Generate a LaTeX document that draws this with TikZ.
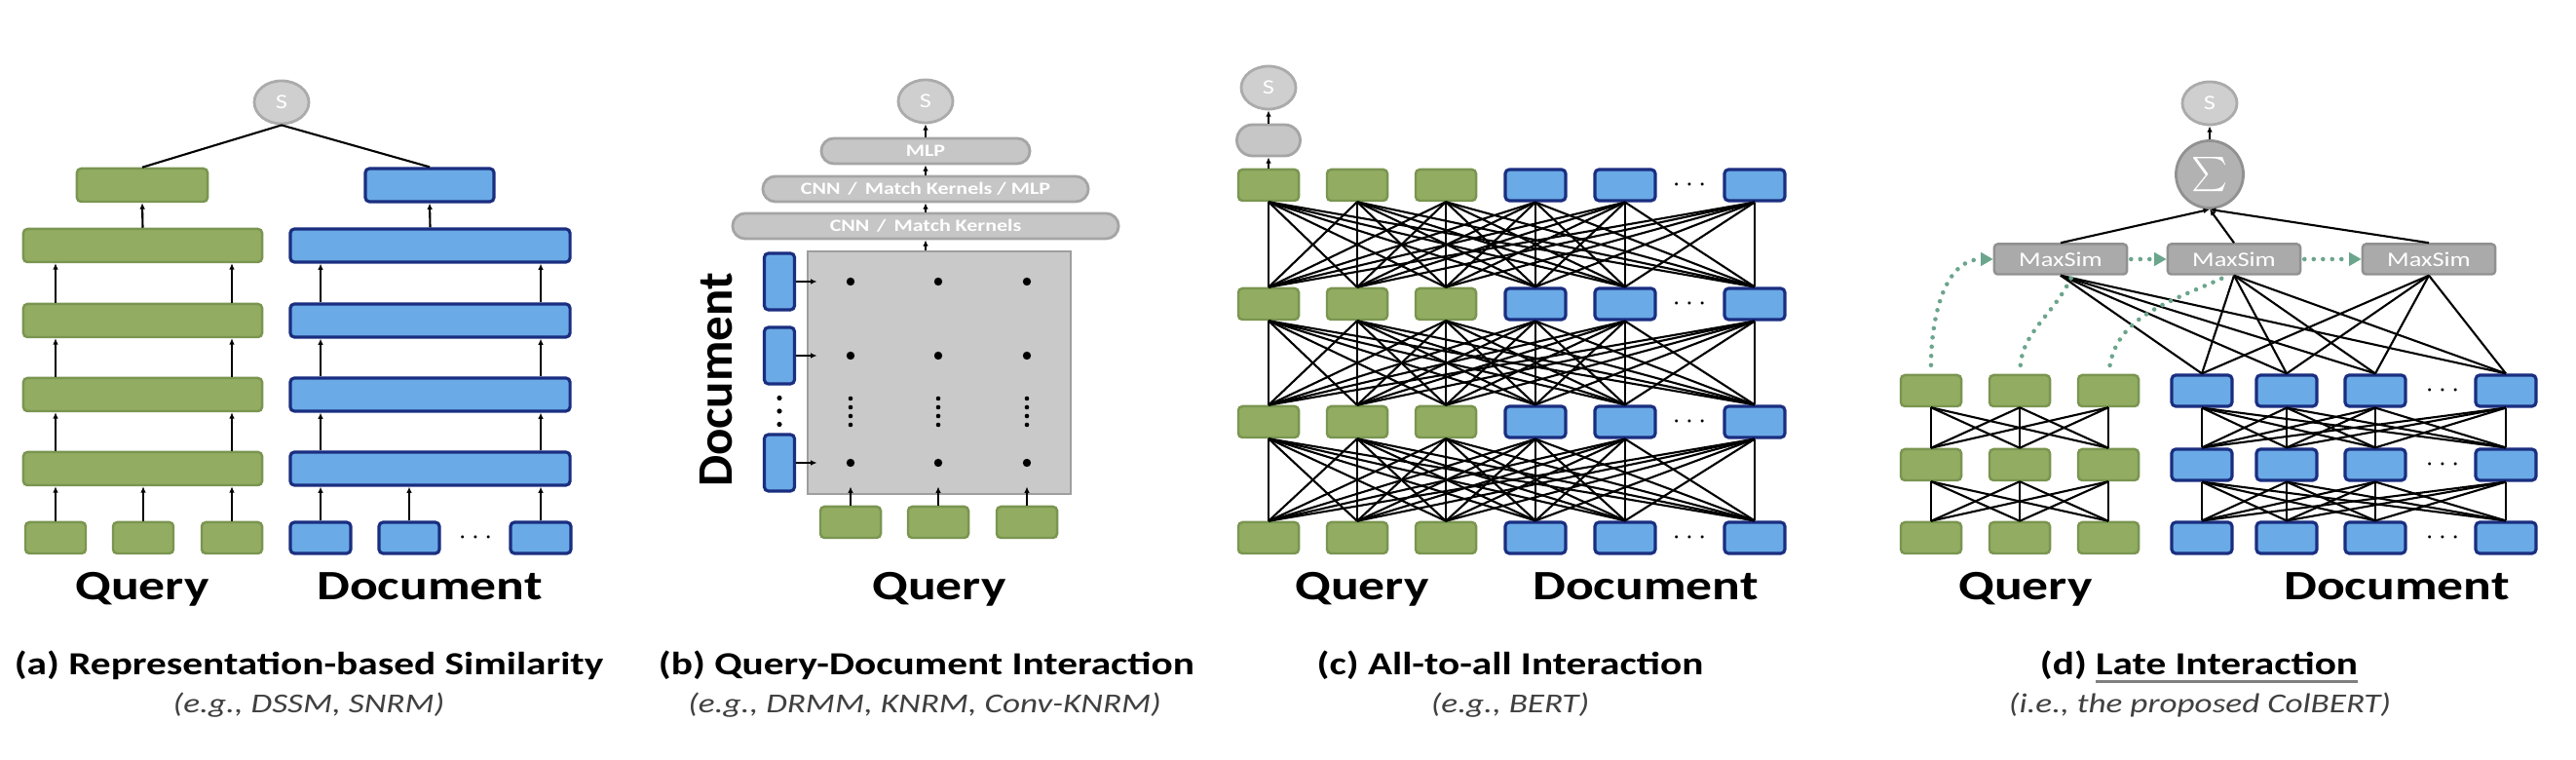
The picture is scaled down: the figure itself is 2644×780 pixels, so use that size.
\documentclass[tikz,border=0pt]{standalone}
\usepackage{fontspec}
\setmainfont{Carlito}[FakeStretch=1.25]
\newfontfamily\narrowfont{Carlito}
\usepackage{tikz}
\usetikzlibrary{arrows.meta,calc,shapes.geometric,shapes.misc}
\definecolor{qgreen}{HTML}{92AC62}
\definecolor{qgreenline}{HTML}{7A9550}
\definecolor{dblue}{HTML}{6AAAE6}
\definecolor{dblueline}{HTML}{1A2E80}
\definecolor{scoregray}{HTML}{CFCFCF}
\definecolor{scoreline}{HTML}{ABABAB}
\definecolor{layergray}{HTML}{C6C6C6}
\definecolor{layerline}{HTML}{A5A5A5}
\definecolor{gridgray}{HTML}{C9C9C9}
\definecolor{gridline}{HTML}{9E9E9E}
\definecolor{simgray}{HTML}{AAAAAA}
\definecolor{simline}{HTML}{919191}
\definecolor{hintgreen}{HTML}{6BA58C}
\definecolor{captiongray}{HTML}{404040}
\newsavebox\ulbox
\newcommand{\grayul}[1]{\sbox\ulbox{#1}\rlap{\color{gray}\rule[-2.4pt]{\wd\ulbox}{1.1pt}}\usebox\ulbox}
\tikzset{
  qbox/.style={rectangle,rounded corners=1.2pt,draw=qgreenline,fill=qgreen,line width=0.7pt,
    minimum width=0.62cm,minimum height=0.32cm,inner sep=0pt},
  dbox/.style={rectangle,rounded corners=1.2pt,draw=dblueline,fill=dblue,line width=0.9pt,
    minimum width=0.62cm,minimum height=0.32cm,inner sep=0pt},
  score/.style={ellipse,draw=scoreline,fill=scoregray,line width=0.8pt,minimum width=0.56cm,
    minimum height=0.44cm,inner sep=0pt,text=white,font=\fontsize{6}{7}\selectfont},
  layer/.style={rounded rectangle,draw=layerline,fill=layergray,line width=0.8pt,
    minimum height=0.26cm,inner sep=0pt,text=white,font=\fontsize{5}{6}\selectfont\bfseries},
  maxsim/.style={rectangle,rounded corners=1pt,draw=simline,fill=simgray,line width=0.7pt,
    minimum width=1.36cm,minimum height=0.31cm,inner sep=0pt,text=white,font=\fontsize{6}{7}\selectfont},
  link/.style={line width=0.6pt,draw=black},
  uparrow/.style={link,-{Latex[length=1.8pt,width=1.6pt]}},
  hint/.style={draw=hintgreen,line width=1.3pt,line cap=round,dash pattern=on 0pt off 2.7pt},
  hintarrow/.style={hint,-{Triangle[length=3.6pt,width=3.8pt]}},
  dotsym/.style={inner sep=0pt,font=\fontsize{8}{8}\selectfont},
  axislabel/.style={anchor=base,font=\fontsize{12.2}{14}\selectfont\bfseries},
  caption/.style={anchor=base,font=\fontsize{9.4}{11}\selectfont\bfseries},
  example/.style={anchor=base,text=captiongray,font=\fontsize{8}{10}\selectfont\itshape}
}

\begin{document}
\begin{tikzpicture}[x=0.01cm,y=-0.01cm]
\fill[white] (0,0) rectangle (2644,780);
\useasboundingbox (0,0) rectangle (2644,780);

% (a) representation-based similarity
\node[score] (sa) at (289,105) {S};
\node[qbox,minimum width=1.34cm,minimum height=0.34cm] (qtop) at (146,190) {};
\node[dbox,minimum width=1.32cm,minimum height=0.34cm] (dtop) at (441,190) {};
\foreach \i/\y in {1/252,2/329,3/405,4/481}{
  \node[qbox,minimum width=2.45cm,minimum height=0.34cm] (qbar\i) at (146.5,\y) {};
  \node[dbox,minimum width=2.87cm,minimum height=0.34cm] (dbar\i) at (441.5,\y) {};
}
\foreach \i/\x in {1/57,2/147,3/238} \node[qbox] (qin\i) at (\x,552) {};
\foreach \i/\x in {1/329,2/420,3/555} \node[dbox] (din\i) at (\x,552) {};
\node[dotsym] (adots) at (488,552) {$\cdots$};

\draw[link] (qtop.north) -- (sa.south);
\draw[link] (dtop.north) -- (sa.south);
\draw[uparrow] (qbar1.north) -- (qtop.south);
\draw[uparrow] (dbar1.north) -- (dtop.south);
\foreach \i/\j in {2/1,3/2,4/3}{
  \foreach \c in {1,3}{
    \draw[uparrow] (qin\c |- qbar\i.north) -- (qin\c |- qbar\j.south);
    \draw[uparrow] (din\c |- dbar\i.north) -- (din\c |- dbar\j.south);
  }
}
\foreach \c in {1,2,3}{
  \draw[uparrow] (qin\c.north) -- (qin\c |- qbar4.south);
  \draw[uparrow] (din\c.north) -- (din\c |- dbar4.south);
}

% (b) query-document interaction
\node[score] (sb) at (950,104) {S};
\node[layer,minimum width=2.14cm] (mlp) at (950,155) {MLP};
\node[layer,minimum width=3.34cm] (cnnmlp) at (950,194) {CNN \,/\, Match Kernels / MLP};
\node[layer,minimum width=3.96cm] (cnn) at (950,232) {CNN \,/\, Match Kernels};
\node[rectangle,draw=gridline,fill=gridgray,line width=0.8pt,minimum width=2.70cm,
  minimum height=2.49cm,inner sep=0pt] (grid) at (964,382.5) {};
\foreach \j/\y in {1/289,2/365,3/475}
  \node[dbox,minimum width=0.31cm,minimum height=0.58cm] (bd\j) at (800,\y) {};
\coordinate (bddots) at (800,422);
\foreach \k in {-1,0,1} \fill ($(bddots)+(0,\k*13.5)$) circle (2.6);
\foreach \i/\x in {1/873,2/963,3/1054} \node[qbox] (bq\i) at (\x,536) {};
\node[rotate=90,inner sep=0pt,font=\narrowfont\fontsize{14.5}{16}\selectfont\bfseries] (bdoclabel) at (735,390) {Document};

\foreach \i in {1,2,3}{
  \foreach \j in {1,2,3} \fill (bq\i |- bd\j) circle (4.2);
  \foreach \k in {0,1,2,3} \fill ($(bq\i |- bddots)+(0,\k*9-13)$) circle (2.3);
  \draw[uparrow] (bq\i.north) -- ([yshift=0.09cm]bq\i.north |- grid.south);
}
\foreach \j in {1,2,3}
  \draw[uparrow] (bd\j.east) -- ([xshift=0.11cm]bd\j.east -| grid.west);
\draw[uparrow] (sb |- grid.north) -- (cnn.south);
\draw[uparrow] (cnn.north) -- (cnnmlp.south);
\draw[uparrow] (cnnmlp.north) -- (mlp.south);
\draw[uparrow] (mlp.north) -- (sb.south);

% (c) all-to-all interaction
\node[score] (sc) at (1302,90) {S};
\node[layer,minimum width=0.65cm,minimum height=0.32cm] (cpool) at (1302,144) {};
\foreach \r/\y in {1/190,2/312,3/433,4/552}{
  \foreach \c/\x in {1/1302,2/1393,3/1484} \node[qbox] (c\r-\c) at (\x,\y) {};
  \foreach \c/\x in {4/1576,5/1668,6/1801} \node[dbox] (c\r-\c) at (\x,\y) {};
  \node[dotsym] (cdots\r) at (1734,\y) {$\cdots$};
}
\foreach \r/\s in {1/2,2/3,3/4}
  \foreach \a in {1,...,6}
    \foreach \b in {1,...,6}
      \draw[link] (c\r-\a.south) -- (c\s-\b.north);
\draw[uparrow] (c1-1.north) -- (cpool.south);
\draw[uparrow] (cpool.north) -- (sc.south);

% (d) late interaction
\node[score] (sd) at (2268,106) {S};
\node[circle,draw=simline,fill=simgray!90,line width=0.8pt,minimum size=0.69cm,inner sep=0pt,
  text=white,font=\fontsize{10}{10}\selectfont] (sum) at (2268,179) {$\sum$};
\node[maxsim] (ms1) at (2115,266) {MaxSim};
\node[maxsim] (ms2) at (2293,266) {MaxSim};
\node[maxsim] (ms3) at (2493,266) {MaxSim};
\foreach \r/\y in {1/401,2/477,3/552}{
  \foreach \c/\x in {1/1982,2/2073,3/2164} \node[qbox] (dq\r-\c) at (\x,\y) {};
  \foreach \c/\x in {1/2260,2/2347,3/2438,4/2572} \node[dbox] (dd\r-\c) at (\x,\y) {};
  \node[dotsym] (ddots\r) at (2507,\y) {$\cdots$};
}
\foreach \r/\s in {1/2,2/3}{
  \foreach \a in {1,2,3} \foreach \b in {1,2,3} \draw[link] (dq\r-\a.south) -- (dq\s-\b.north);
  \foreach \a in {1,...,4} \foreach \b in {1,...,4} \draw[link] (dd\r-\a.south) -- (dd\s-\b.north);
}
\foreach \m in {1,2,3}{
  \foreach \b in {1,...,4} \draw[link] (ms\m.south) -- (dd1-\b.north);
  \draw[uparrow] (ms\m.north) -- (sum.south);
}
\draw[uparrow] (sum.north) -- (sd.south);
\draw[hintarrow,shorten <=0.09cm] (dq1-1.north) to[out=90,in=180] (ms1.west);
\draw[hint,shorten <=0.09cm] (dq1-2.north) to[out=85,in=-115] ([xshift=0.12cm]ms1.south);
\draw[hint,shorten <=0.09cm] (dq1-3.north) to[out=80,in=-155] ([xshift=-0.06cm]ms2.south);
\draw[hintarrow,shorten <=0.03cm] (ms1.east) -- (ms2.west);
\draw[hintarrow,shorten <=0.03cm] (ms2.east) -- (ms3.west);

% axis labels
\node[axislabel] (qlab-a) at (146,616) {Query};
\node[axislabel] (dlab-a) at (441,616) {Document};
\node[axislabel] (qlab-b) at (964,616) {Query};
\node[axislabel] (qlab-c) at (1398,616) {Query};
\node[axislabel] (dlab-c) at (1689,616) {Document};
\node[axislabel] (qlab-d) at (2079,616) {Query};
\node[axislabel] (dlab-d) at (2460,616) {Document};

% captions
\node[caption] (cap-a) at (317,693) {(a) Representation-based Similarity};
\node[example] (eg-a) at (317,732) {(e.g., DSSM, SNRM)};
\node[caption] (cap-b) at (951,693) {(b) Query-Document Interaction};
\node[example] (eg-b) at (949,732) {(e.g., DRMM, KNRM, Conv-KNRM)};
\node[caption] (cap-c) at (1550,693) {(c) All-to-all Interaction};
\node[example] (eg-c) at (1550,732) {(e.g., BERT)};
\node[caption] (cap-d) at (2257,693) {(d) \grayul{Late Interaction}};
\node[example] (eg-d) at (2258,732) {(i.e., the proposed ColBERT)};
\end{tikzpicture}
\end{document}
